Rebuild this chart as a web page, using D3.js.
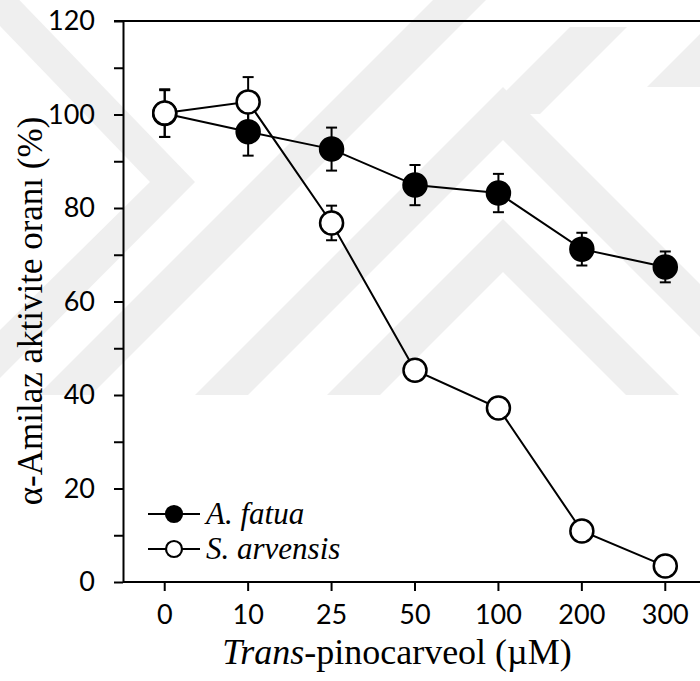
<!DOCTYPE html>
<html><head><meta charset="utf-8">
<script src="https://cdn.jsdelivr.net/npm/d3@7"></script>
<style>body{margin:0;background:#fff} svg{display:block}</style>
</head><body>
<script>
// ---- data ----
const categories = ["0", "10", "25", "50", "100", "200", "300"];
const fatuaValues = [100.2, 96.3, 92.6, 84.9, 83.2, 71.2, 67.4];
const fatuaErrors = [5.0, 5.1, 4.6, 4.3, 4.1, 3.5, 3.3];
const arvensisValues = [100.3, 102.7, 76.8, 45.3, 37.2, 10.9, 3.4];
const arvensisErrors = [5.1, 5.3, 3.7, 1.5, 1.5, 1.0, 1.0];
const yTicks = [0, 10, 20, 30, 40, 50, 60, 70, 80, 90, 100, 110, 120];
const yTickLabels = ["0", "", "20", "", "40", "", "60", "", "80", "", "100", "", "120"];
const seriesNames = ["A. fatua", "S. arvensis"];
const xTitleItalic = "Trans";
const xTitleRest = "-pinocarveol (\u00B5M)";
const yTitle = "\u03B1-Amilaz aktivite oran\u0131 (%)";

const W = 700, H = 681;
const M = {left: 123, right: 707, top: 21, bottom: 582};

const svg = d3.select("body").append("svg").attr("width", W).attr("height", H);

// ---- faint background watermark (decoration) ----
const wm = svg.append("g").attr("fill", "#efefef");
const pts = a => a.map(p => p.join(",")).join(" ");
function chevronUp(cx, apex, t, bottom) {
  const h = bottom - apex;
  return [[cx - h, bottom], [cx, apex], [cx + h, bottom], [cx + h - t, bottom], [cx, apex + t], [cx - h + t, bottom]];
}
[[503, 219, 53, 395], [503, 87, 53, 395]].forEach(c => wm.append("polygon").attr("points", pts(chevronUp(...c))));
// diagonal "/" bands at the top
wm.append("polygon").attr("points", pts([[458, -25], [511, -25], [91, 395], [38, 395]]));
wm.append("polygon").attr("points", pts([[570, 27], [627, 27], [540, 114], [483, 114]]));
wm.append("polygon").attr("points", pts([[707, 27], [760, 27], [700, 87], [647, 87]]));
// left ">" shape
wm.append("polygon").attr("points", pts([[0, 26], [0, -20], [195, 182], [0, 378], [0, 330], [150, 182]]));

const x = d3.scaleBand().domain(categories).range([M.left, M.right]).padding(0);
const cx = d => x(d) + x.bandwidth() / 2;
const y = d3.scaleLinear().domain([0, 120]).range([M.bottom, M.top]);

// ---- axes ----
const fontTick = "Lato, 'Open Sans', sans-serif";
const yAxis = svg.append("g").attr("transform", `translate(${M.left},0)`)
  .call(d3.axisLeft(y).tickValues(yTicks).tickSize(9).tickSizeOuter(0).tickPadding(19)
    .tickFormat((d, i) => yTickLabels[i]));
const xAxis = svg.append("g").attr("transform", `translate(0,${M.bottom})`)
  .call(d3.axisBottom(x).tickSize(9).tickSizeOuter(0).tickPadding(14));
[yAxis, xAxis].forEach(a => {
  a.selectAll("path.domain").attr("stroke", "#000").attr("stroke-width", 2);
  a.selectAll(".tick line").attr("stroke", "#000").attr("stroke-width", 2);
  a.selectAll(".tick text").attr("font-family", fontTick).attr("font-size", 27).attr("fill", "#000");
});
// top frame line
svg.append("line").attr("x1", M.left - 9).attr("x2", M.right).attr("y1", y(120)).attr("y2", y(120))
  .attr("stroke", "#000").attr("stroke-width", 2);
xAxis.select("path.domain").attr("d", `M${M.left},0H${M.right}`);

// ---- series ----
function drawSeries(values, errors, fill) {
  const data = categories.map((c, i) => ({c, v: values[i], e: errors[i]}));
  const line = d3.line().x(d => cx(d.c)).y(d => y(d.v));
  svg.append("path").datum(data).attr("d", line).attr("fill", "none").attr("stroke", "#000").attr("stroke-width", 2);
  const eb = svg.append("g").attr("stroke", "#000").attr("stroke-width", 2);
  data.forEach(d => {
    eb.append("line").attr("x1", cx(d.c)).attr("x2", cx(d.c)).attr("y1", y(d.v - d.e)).attr("y2", y(d.v + d.e));
    [d.v - d.e, d.v + d.e].forEach(v => eb.append("line")
      .attr("x1", cx(d.c) - 5.5).attr("x2", cx(d.c) + 5.5).attr("y1", y(v)).attr("y2", y(v)));
  });
  svg.append("g").selectAll("circle").data(data).join("circle")
    .attr("cx", d => cx(d.c)).attr("cy", d => y(d.v)).attr("r", 11.5)
    .attr("fill", fill).attr("stroke", "#000").attr("stroke-width", 2.5);
}
drawSeries(fatuaValues, fatuaErrors, "#000");
drawSeries(arvensisValues, arvensisErrors, "#fff");

// ---- legend ----
const serif = "'Liberation Serif', 'Times New Roman', serif";
const lg = svg.append("g");
[["#000", 0], ["#fff", 1]].forEach(([f, i]) => {
  const ly = 514 + i * 35;
  lg.append("line").attr("x1", 148).attr("x2", 200).attr("y1", ly).attr("y2", ly).attr("stroke", "#000").attr("stroke-width", 2);
  lg.append("circle").attr("cx", 174).attr("cy", ly).attr("r", 8).attr("fill", f).attr("stroke", "#000").attr("stroke-width", 2.2);
  lg.append("text").attr("x", 206).attr("y", ly + 10).attr("font-family", serif).attr("font-style", "italic")
    .attr("font-size", 31).text(seriesNames[i]);
});

// ---- titles ----
const xt = svg.append("text").attr("x", 397).attr("y", 664).attr("text-anchor", "middle")
  .attr("font-family", serif).attr("font-size", 36);
xt.append("tspan").attr("font-style", "italic").text(xTitleItalic);
xt.append("tspan").text(xTitleRest);
svg.append("text").attr("transform", "translate(42,311) rotate(-90)").attr("text-anchor", "middle")
  .attr("font-family", serif).attr("font-size", 35).text(yTitle);
</script>
</body></html>
